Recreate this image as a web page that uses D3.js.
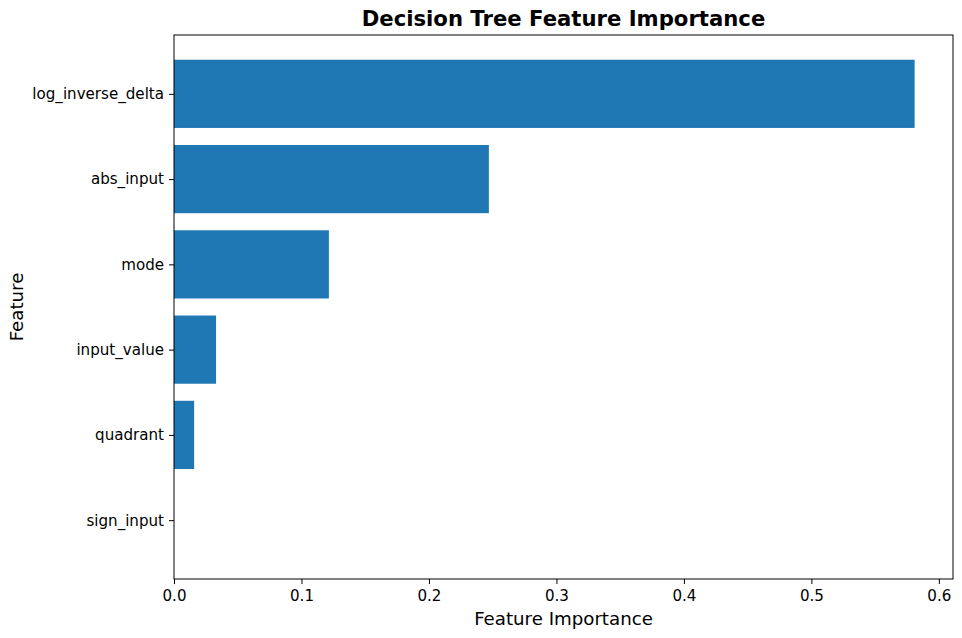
<!DOCTYPE html>
<html>
<head>
<meta charset="utf-8">
<script src="https://cdn.jsdelivr.net/npm/d3@7"></script>
<style>
  body { margin: 0; background: #fff; }
  text { font-family: "DejaVu Sans", sans-serif; fill: #000; }
</style>
</head>
<body>
<script>
// feature importances (top to bottom)
var features = ["log_inverse_delta", "abs_input", "mode", "input_value", "quadrant", "sign_input"];
var importance = [0.581, 0.247, 0.1215, 0.033, 0.0158, 0.0];
var xTicks = [0.0, 0.1, 0.2, 0.3, 0.4, 0.5, 0.6];

window.onload = drawChart();

function drawChart() {
    var width = 962,
        height = 638;
    var margin = {top: 35, right: 9, bottom: 59, left: 174};

    var svg = d3.select("body")
        .append("svg")
        .attr("width", width)
        .attr("height", height);

    // x scale, matplotlib-style 5% margin past the longest bar
    var x = d3.scaleLinear()
        .domain([0, 0.6111])
        .range([margin.left, width - margin.right]);

    // bars sit at integer positions, height 0.8, with 5% padding
    var n = features.length;
    var y = d3.scaleLinear()
        .domain([-0.4 - 0.29, n - 1 + 0.4 + 0.29])
        .range([margin.top, height - margin.bottom]);

    svg.selectAll(".bar")
        .data(features)
        .enter()
        .append("rect")
        .attr("class", "bar")
        .attr("x", x(0))
        .attr("y", function(d, i) { return y(i - 0.4); })
        .attr("width", function(d, i) { return x(importance[i]) - x(0); })
        .attr("height", function(d, i) { return y(i + 0.4) - y(i - 0.4); })
        .style("fill", "#1f77b4");

    // x axis
    var xAxis = svg.append("g")
        .attr("transform", "translate(0," + (height - margin.bottom) + ")")
        .call(d3.axisBottom(x).tickValues(xTicks).tickFormat(d3.format(".1f")).tickSize(5).tickPadding(4));

    // y axis
    var yAxis = svg.append("g")
        .attr("transform", "translate(" + margin.left + ",0)")
        .call(d3.axisLeft(y).tickValues(d3.range(n)).tickFormat(function(i) { return features[i]; }).tickSize(5).tickPadding(5));

    [xAxis, yAxis].forEach(function(a) {
        a.select(".domain").remove();
        a.selectAll("line").attr("stroke", "#000").attr("stroke-width", 1);
        a.selectAll("text").style("font-size", "15.1px").attr("fill", "#222");
    });
    xAxis.selectAll("text").attr("dy", "0.85em");

    // frame
    svg.append("rect")
        .attr("x", margin.left)
        .attr("y", margin.top)
        .attr("width", width - margin.right - margin.left)
        .attr("height", height - margin.bottom - margin.top)
        .style("fill", "none")
        .style("stroke", "#000")
        .style("stroke-width", 1);

    // title and axis labels
    svg.append("text")
        .attr("x", (margin.left + width - margin.right) / 2)
        .attr("y", 26)
        .attr("text-anchor", "middle")
        .style("font-size", "21.2px")
        .style("font-weight", "bold")
        .text("Decision Tree Feature Importance");

    svg.append("text")
        .attr("x", (margin.left + width - margin.right) / 2)
        .attr("y", 625)
        .attr("text-anchor", "middle")
        .style("font-size", "18.2px")
        .text("Feature Importance");

    svg.append("text")
        .attr("transform", "translate(23," + ((margin.top + height - margin.bottom) / 2) + ") rotate(-90)")
        .attr("text-anchor", "middle")
        .style("font-size", "18.2px")
        .text("Feature");
}
</script>
</body>
</html>
